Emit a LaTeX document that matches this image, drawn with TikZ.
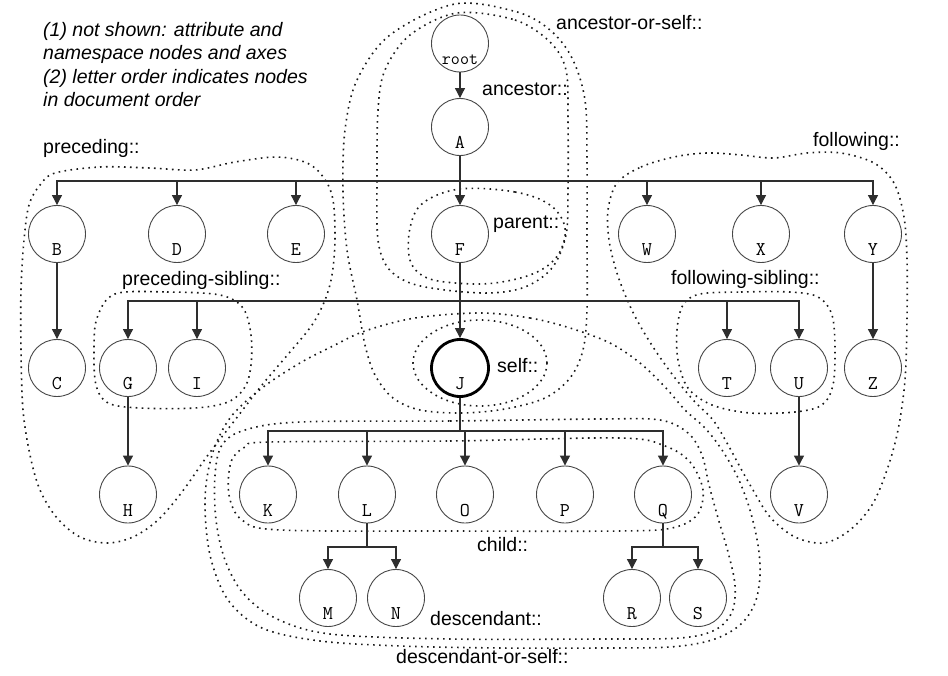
\documentclass[tikz,border=0pt]{standalone}
\usepackage{fontspec}
\setmainfont{Liberation Sans}
\usetikzlibrary{arrows.meta}
\begin{document}
\begin{tikzpicture}[x=1pt,y=-1pt,
  circ/.style={circle, draw=black!72, fill=white, line width=0.9pt, minimum size=57pt, inner sep=0pt,
    text height=43pt, text depth=0pt, font=\ttfamily\fontsize{19.5}{19.5}\selectfont},
  conn/.style={draw=black!82, line width=1.1pt, -{Triangle[length=10pt,width=10pt]}},
  dots/.style={draw=black!90, line width=1.6pt, line cap=butt, dash pattern=on 1.6pt off 4.4pt},
  lab/.style={font=\fontsize{19.5}{23.5}\selectfont, anchor=base west, inner sep=0pt},
  ]
\useasboundingbox (0,0) rectangle (948,676);

% ---- dotted regions ----
% ancestor-or-self
\draw[dots] plot[smooth cycle, tension=0.55] coordinates {(455,4) (517,12) (550,30) (572,58) (585,100) (587,160) (587,240) (587,310) (583,350) (570,378) (545,398) (505,409) (462,413) (420,410) (393,398) (375,375) (365,345) (357,300) (347,250) (343,190) (345,130) (357,80) (390,35)};
% ancestor
\draw[dots] plot[smooth cycle, tension=0.55] coordinates {(457,13) (515,20) (550,42) (566,70) (568,120) (568,190) (566,235) (552,268) (525,287) (490,293) (445,290) (410,283) (388,268) (378,240) (377,180) (378,110) (385,70) (410,35)};
% parent
\draw[dots] plot[smooth cycle, tension=0.6] coordinates {(460,189) (515,192) (550,205) (565,228) (558,255) (535,273) (495,283) (455,283) (425,277) (410,260) (410,228) (423,203)};
% self
\draw[dots] (480,363) ellipse [x radius=67pt, y radius=43pt];
% descendant-or-self
\draw[dots] plot[smooth cycle, tension=0.55] coordinates {(480,313) (530,318) (570,328) (610,343) (640,363) (665,387) (685,410) (705,428) (722,450) (738,478) (750,510) (758,545) (760,575) (755,603) (740,625) (712,640) (670,647) (600,648) (500,648) (400,646) (320,641) (262,628) (228,600) (210,555) (205,500) (212,455) (230,418) (262,388) (300,363) (333,346) (365,331) (415,318)};
% descendant
\draw[dots] plot[smooth cycle, tension=0.55] coordinates {(300,422) (450,421) (600,419) (660,420) (688,433) (702,455) (709,485) (718,518) (728,552) (735,585) (732,612) (715,630) (680,638) (600,639) (450,639) (330,634) (275,618) (243,593) (225,560) (216,520) (215,475) (222,445) (245,430)};
% child
\draw[dots] plot[smooth cycle, tension=0.55] coordinates {(270,442) (450,441) (620,438) (665,446) (690,462) (703,490) (697,515) (672,528) (620,531) (450,531) (280,530) (242,520) (229,495) (231,462) (245,447)};
% preceding
\draw[dots] plot[smooth cycle, tension=0.55] coordinates {(55,173) (100,167) (150,168) (195,170) (235,162) (277,157) (307,163) (324,178) (333,200) (335,240) (332,275) (325,300) (312,325) (290,352) (262,385) (235,420) (208,455) (182,492) (158,520) (133,537) (107,543) (80,537) (57,518) (40,490) (30,455) (23,410) (21,350) (21,290) (24,240) (29,205) (40,185)};
% preceding-sibling
\draw[dots] plot[smooth cycle, tension=0.55] coordinates {(115,294) (167,292) (220,295) (243,308) (251,335) (251,365) (245,387) (228,402) (195,408) (140,408) (108,403) (96,385) (94,350) (97,318)};
% following-sibling
\draw[dots] plot[smooth cycle, tension=0.55] coordinates {(700,294) (741,292) (790,292) (818,297) (832,315) (835,350) (833,385) (822,405) (795,412) (750,413) (712,405) (688,388) (678,360) (677,330) (683,305)};
% following
\draw[dots] plot[smooth cycle, tension=0.55] coordinates {(617,183) (641,167) (674,157) (707,153) (741,155) (774,158) (807,153) (841,153) (874,163) (894,183) (904,217) (907,260) (907,320) (905,380) (898,430) (887,470) (872,505) (850,530) (824,543) (795,537) (770,517) (753,490) (740,467) (727,443) (713,420) (695,402) (675,378) (655,350) (638,322) (626,297) (616,270) (609,240) (608,210)};

% ---- tree nodes ----
\node[circ] (root) at (460,43.5) {\fontsize{17.5}{17.5}\selectfont root};
\node[circ] (A) at (460,127) {A};
\node[circ] (B) at (57,234) {B};
\node[circ] (D) at (177,234) {D};
\node[circ] (E) at (296,234) {E};
\node[circ] (F) at (460,234) {F};
\node[circ] (W) at (647,234) {W};
\node[circ] (X) at (761,234) {X};
\node[circ] (Y) at (873,234) {Y};
\node[circ] (C) at (57,368) {C};
\node[circ] (G) at (128,368) {G};
\node[circ] (I) at (197,368) {I};
\node[circ, draw=black, line width=2.8pt] (J) at (460,368) {J};
\node[circ] (T) at (727,368) {T};
\node[circ] (U) at (799,368) {U};
\node[circ] (Z) at (873,368) {Z};
\node[circ] (H) at (128,494.5) {H};
\node[circ] (V) at (799,494.5) {V};
\node[circ] (K) at (268,494.5) {K};
\node[circ] (L) at (367,494.5) {L};
\node[circ] (O) at (465,494.5) {O};
\node[circ] (P) at (565,494.5) {P};
\node[circ] (Q) at (663,494.5) {Q};
\node[circ] (M) at (328,598) {M};
\node[circ] (N) at (396,598) {N};
\node[circ] (R) at (632,598) {R};
\node[circ] (S) at (698,598) {S};

% ---- connectors ----
\coordinate (bA) at (0,181);
\coordinate (bF) at (0,301);
\coordinate (bJ) at (0,431);
\coordinate (bLQ) at (0,547);
\draw[conn] (root) -- (A);
\foreach \c in {B,D,E,F,W,X,Y} \draw[conn] (A.south) -- (A.south |- bA) -| (\c.north);
\draw[conn] (B) -- (C);
\draw[conn] (Y) -- (Z);
\foreach \c in {G,I,J,T,U} \draw[conn] (F.south) -- (F.south |- bF) -| (\c.north);
\draw[conn] (G) -- (H);
\draw[conn] (U) -- (V);
\foreach \c in {K,L,O,P,Q} \draw[conn] (J.south) -- (J.south |- bJ) -| (\c.north);
\foreach \c in {M,N} \draw[conn] (L.south) -- (L.south |- bLQ) -| (\c.north);
\foreach \c in {R,S} \draw[conn] (Q.south) -- (Q.south |- bLQ) -| (\c.north);

% ---- labels ----
\node[lab, anchor=north west, align=left, font=\itshape\fontsize{19.5}{23.5}\selectfont] (note) at (43,22)
  {(1) not shown: attribute and\\namespace nodes and axes\\(2) letter order indicates nodes\\in document order};
\node[lab] (lAOS) at (556,30) {ancestor-or-self::};
\node[lab] (lANC) at (482,96) {ancestor::};
\node[lab] (lFOL) at (813,147) {following::};
\node[lab] (lPRE) at (43,154) {preceding::};
\node[lab] (lPAR) at (493,229) {parent::};
\node[lab] (lPS) at (122,286) {preceding-sibling::};
\node[lab] (lFS) at (671,285) {following-sibling::};
\node[lab] (lSELF) at (497,372) {self::};
\node[lab] (lCHILD) at (477,551) {child::};
\node[lab] (lDES) at (430,625) {descendant::};
\node[lab] (lDOS) at (396,663) {descendant-or-self::};
\end{tikzpicture}
\end{document}
